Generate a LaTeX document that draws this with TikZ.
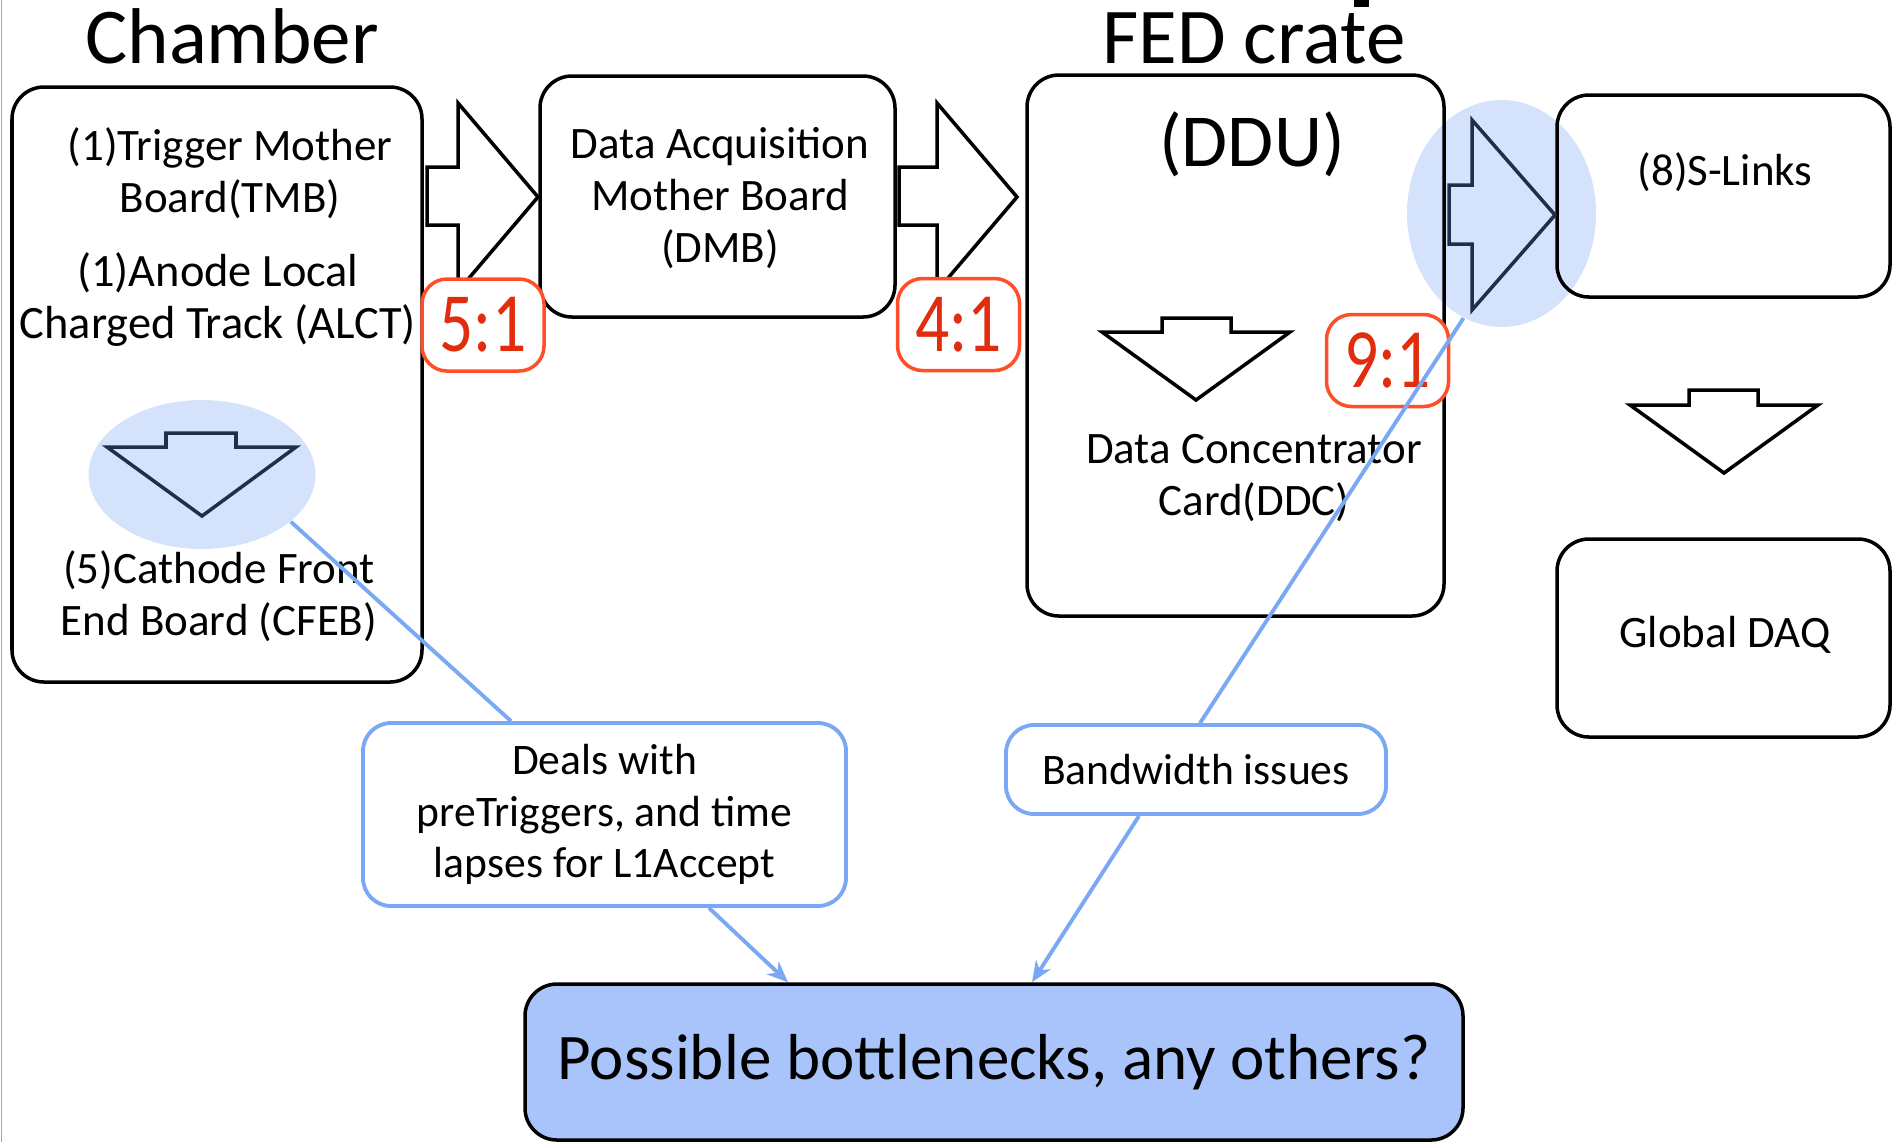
\documentclass[tikz,border=0pt]{standalone}
\usepackage{fontspec}
\setmainfont{Carlito}
\newfontfamily\ratiofont[FakeStretch=0.8]{Carlito}
\usetikzlibrary{arrows.meta,positioning,shapes.geometric}

\definecolor{ratiored}{RGB}{226,44,14}
\definecolor{ratioedge}{RGB}{255,78,40}
\definecolor{noteblue}{RGB}{122,168,245}
\definecolor{neckfill}{RGB}{168,196,250}
\definecolor{glowfill}{RGB}{212,227,251}
\definecolor{navy}{RGB}{33,46,72}

\begin{document}
\begin{tikzpicture}[>={Stealth[length=6pt,width=5pt]},
    board/.style={draw,line width=1pt,rounded corners=0.32cm,inner sep=0pt},
    note/.style={draw=noteblue,line width=1.1pt,fill=white,rounded corners=0.28cm,inner sep=0pt,align=center,font=\fontsize{12.4}{14.6}\selectfont},
    ratio/.style={draw=ratioedge,line width=1pt,fill=white,rounded corners=0.25cm,text=ratiored,font=\ratiofont\fontsize{24}{24}\selectfont,minimum width=1.22cm,minimum height=0.92cm,inner sep=0pt},
    glow/.style={ellipse,fill=glowfill,inner sep=0pt},
    boardtext/.style={anchor=base,align=center,font=\fontsize{12.8}{14.7}\selectfont},
    heading/.style={anchor=base,font=\fontsize{22.5}{26}\selectfont},
    block/.style={line width=1pt},
    noteline/.style={draw=noteblue,line width=1.1pt}]

    \useasboundingbox (0,0) rectangle (19,-11.42);

    % page edge and stub of the heading above
    \draw [gray!70,line width=0.5pt] (0.015,0) -- (0.015,-11.42);
    \fill (13.54,0) rectangle (13.69,-0.07);

    % highlighted spots
    \node [glow,minimum width=2.27cm,minimum height=1.49cm] (glowL) at (2.02,-4.745) {};
    \node [glow,minimum width=1.89cm,minimum height=2.27cm] (glowR) at (15.015,-2.135) {};

    % boards
    \node [board,minimum width=4.10cm,minimum height=5.95cm] (chamber) at (2.17,-3.845) {};
    \node [board,minimum width=3.55cm,minimum height=2.41cm] (dmb) at (7.175,-1.965) {};
    \node [board,minimum width=4.17cm,minimum height=5.41cm] (ddu) at (12.355,-3.455) {};
    \node [board,minimum width=3.33cm,minimum height=2.02cm] (slinks) at (17.235,-1.96) {};
    \node [board,minimum width=3.33cm,minimum height=1.98cm] (gdaq) at (17.235,-6.38) {};

    % headings
    \node [heading] (chambertitle) at (2.32,-0.63) {Chamber};
    \node [heading] (fedtitle) at (12.54,-0.63) {FED crate};

    % board contents (base = last line)
    \node [boardtext] (tmb) at (2.30,-2.12) {(1)Trigger Mother\\Board(TMB)};
    \node [boardtext,font=\fontsize{13.2}{14.7}\selectfont] (alct) at (2.18,-3.38) {(1)Anode Local\\Charged Track (ALCT)};
    \node [boardtext] (cfeb) at (2.19,-6.35) {(5)Cathode Front\\End Board (CFEB)};
    \node [boardtext] (dmbtext) at (7.20,-2.62) {Data Acquisition\\Mother Board\\(DMB)};
    \node [heading,font=\fontsize{21.3}{24}\selectfont] (ddutext) at (12.52,-1.66) {(DDU)};
    \node [boardtext] (ddc) at (12.54,-5.15) {Data Concentrator\\Card(DDC)};
    \node [boardtext] (slinkstext) at (17.25,-1.85) {(8)S-Links};
    \node [boardtext] (gdaqtext) at (17.25,-6.47) {Global DAQ};

    % block arrows to the right
    \draw [block] (4.27,-1.67) -- (4.58,-1.67) -- (4.58,-1.03) -- (5.38,-1.97) -- (4.58,-2.91) -- (4.58,-2.25) -- (4.27,-2.25) -- cycle;
    \draw [block] (8.99,-1.67) -- (9.37,-1.67) -- (9.37,-1.03) -- (10.17,-1.97) -- (9.37,-2.91) -- (9.37,-2.25) -- (8.99,-2.25) -- cycle;
    \draw [block,navy] (14.49,-1.85) -- (14.72,-1.85) -- (14.72,-1.20) -- (15.55,-2.15) -- (14.72,-3.10) -- (14.72,-2.44) -- (14.49,-2.44) -- cycle;

    % block arrows downwards
    \draw [block,navy] (1.66,-4.33) -- (2.36,-4.33) -- (2.36,-4.47) -- (2.96,-4.47) -- (2.02,-5.16) -- (1.07,-4.47) -- (1.66,-4.47) -- cycle;
    \draw [block] (11.62,-3.18) -- (12.31,-3.18) -- (12.31,-3.32) -- (12.90,-3.32) -- (11.96,-4.00) -- (11.02,-3.32) -- (11.62,-3.32) -- cycle;
    \draw [block] (16.89,-3.90) -- (17.58,-3.90) -- (17.58,-4.05) -- (18.18,-4.05) -- (17.24,-4.73) -- (16.30,-4.05) -- (16.89,-4.05) -- cycle;

    % ratios
    \node [ratio] (r51) at (4.83,-3.25) {5:1};
    \node [ratio] (r41) at (9.585,-3.245) {4:1};
    \node [ratio] (r91) at (13.875,-3.605) {9:1};

    % notes
    \node [note,minimum width=4.83cm,minimum height=1.83cm] (deals) at (6.045,-8.145) {Deals with\\preTriggers, and time\\lapses for L1Accept};
    \node [note,minimum width=3.80cm,minimum height=0.89cm] (bw) at (11.96,-7.695) {Bandwidth issues};
    \node [draw,line width=1pt,fill=neckfill,rounded corners=0.32cm,minimum width=9.38cm,minimum height=1.56cm,font=\fontsize{18.5}{22}\selectfont] (neck) at (9.94,-10.62) {\raisebox{-0.05cm}{Possible bottlenecks, any others?}};

    % note connectors
    \draw [noteline] ([xshift=-0.935cm]deals.north) -- (glowL.-28);
    \draw [noteline] ([xshift=0.04cm]bw.north) -- (glowR.250);
    \draw [noteline,->] ([xshift=1.045cm]deals.south) -- ([xshift=-2.06cm]neck.north);
    \draw [noteline,->] ([xshift=-0.57cm]bw.south) -- ([xshift=0.38cm]neck.north);

\end{tikzpicture}
\end{document}
